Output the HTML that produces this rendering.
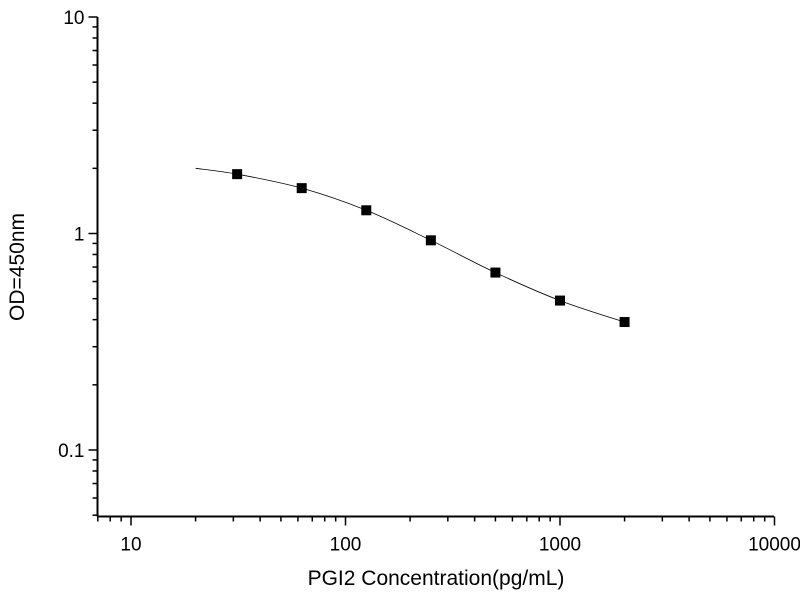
<!DOCTYPE html>
<html><head><meta charset="utf-8"><style>
body{margin:0;background:#fff;}
svg text{font-family:"Liberation Sans",Arial,sans-serif;fill:#000;}
</style></head><body>
<svg id="s" width="800" height="600" xmlns="http://www.w3.org/2000/svg"></svg>
<script>
const s=document.getElementById('s');let h='';
const X=v=>131+(Math.log10(v)-1)*214.5, Y=v=>17+(1-Math.log10(v))*216.5;
const L=97.5,B=516.5,R=774;
h+=`<line x1="${L}" y1="17" x2="${L}" y2="${B}" stroke="#000" stroke-width="2"/>`;
h+=`<line x1="${L}" y1="${B}" x2="${R}" y2="${B}" stroke="#000" stroke-width="2"/>`;
// y ticks
for(let e=-2;e<=1;e++)for(let m=1;m<10;m++){const v=m*Math.pow(10,e);const y=Y(v);if(y<16||y>B+1)continue;
 const len=m==1?9:5;h+=`<line x1="${L-len}" y1="${y}" x2="${L}" y2="${y}" stroke="#000" stroke-width="1.5"/>`;
 if(m==1)h+=`<text x="${L-13}" y="${y+7}" font-size="19" text-anchor="end">${v>=1?v:'0.1'}</text>`;}
for(let e=0;e<=4;e++)for(let m=1;m<10;m++){const v=m*Math.pow(10,e);const x=X(v);if(x<L-1||x>R+1)continue;
 const len=m==1?9:5;h+=`<line x1="${x}" y1="${B}" x2="${x}" y2="${B+len}" stroke="#000" stroke-width="1.5"/>`;
 if(m==1)h+=`<text x="${x}" y="${B+34}" font-size="19" text-anchor="middle">${v}</text>`;}
h+=`<text x="436" y="585" font-size="21" text-anchor="middle">PGI2 Concentration(pg/mL)</text>`;
h+=`<text transform="translate(24,267) rotate(-90)" font-size="21" text-anchor="middle">OD=450nm</text>`;
const pts=[[20,2.0],[31.25,1.88],[62.5,1.62],[125,1.28],[250,0.93],[500,0.66],[1000,0.49],[2000,0.39]].map(p=>[X(p[0]),Y(p[1])]);
let d=`M${pts[0][0]},${pts[0][1]}`;
for(let i=0;i<pts.length-1;i++){const p0=pts[Math.max(0,i-1)],p1=pts[i],p2=pts[i+1],p3=pts[Math.min(pts.length-1,i+2)];
 d+=` C${p1[0]+(p2[0]-p0[0])/6},${p1[1]+(p2[1]-p0[1])/6} ${p2[0]-(p3[0]-p1[0])/6},${p2[1]-(p3[1]-p1[1])/6} ${p2[0]},${p2[1]}`;}
h+=`<path d="${d}" fill="none" stroke="#000" stroke-width="0.8"/>`;
pts.slice(1).forEach(p=>h+=`<rect x="${p[0]-5}" y="${p[1]-5}" width="10" height="10" fill="#000"/>`);
s.innerHTML=h;
</script>
</body></html>
